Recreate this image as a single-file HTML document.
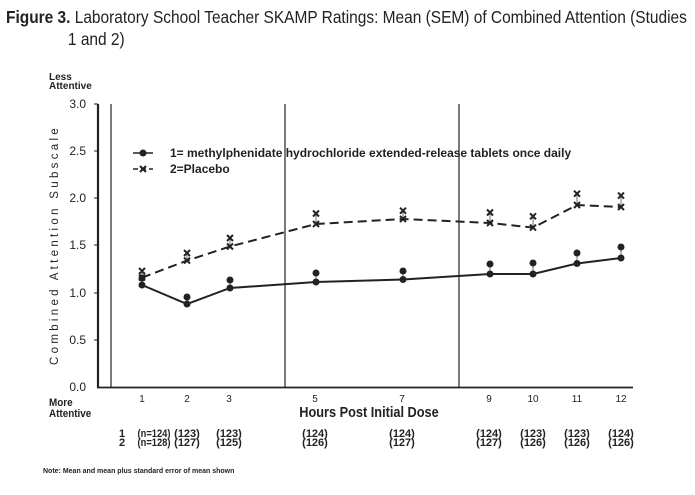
<!DOCTYPE html>
<html><head><style>
body{margin:0;background:#fff;}
svg text{font-family:"Liberation Sans",sans-serif;fill:#222;}
</style></head><body>
<svg width="695" height="490" viewBox="0 0 695 490" xmlns="http://www.w3.org/2000/svg">
<text x="7" y="23" font-size="18" transform="scale(0.86,1)" ><tspan font-weight="bold">Figure 3.</tspan> Laboratory School Teacher SKAMP Ratings: Mean (SEM) of Combined Attention (Studies</text>
<text x="79" y="45" font-size="18" transform="scale(0.86,1)">1 and 2)</text>

<text x="49" y="80" font-size="10" font-weight="bold">Less</text>
<text x="49" y="89" font-size="10" font-weight="bold">Attentive</text>
<g font-size="12" text-anchor="end">
<text x="86" y="108">3.0</text><text x="86" y="155">2.5</text><text x="86" y="202">2.0</text>
<text x="86" y="249">1.5</text><text x="86" y="297">1.0</text><text x="86" y="344">0.5</text><text x="86" y="391">0.0</text>
</g>
<text transform="translate(58,245) rotate(-90)" font-size="11.5" text-anchor="middle" letter-spacing="3.3">Combined Attention Subscale</text>
<g stroke="#222">
<line x1="98" y1="104" x2="98" y2="388" stroke-width="2.2"/>
<line x1="97" y1="387.5" x2="633" y2="387.5" stroke-width="1.8"/>
<line x1="111" y1="104" x2="111" y2="387" stroke-width="1.2"/>
<line x1="285" y1="104" x2="285" y2="387" stroke-width="1.2"/>
<line x1="459" y1="104" x2="459" y2="387" stroke-width="1.2"/>
<g stroke-width="1"><line x1="94" y1="104" x2="98" y2="104"/><line x1="94" y1="151" x2="98" y2="151"/><line x1="94" y1="198" x2="98" y2="198"/><line x1="94" y1="245" x2="98" y2="245"/><line x1="94" y1="293" x2="98" y2="293"/><line x1="94" y1="340" x2="98" y2="340"/></g>
</g>
<g font-size="10" text-anchor="middle">
<text x="142" y="402">1</text><text x="187" y="402">2</text><text x="229" y="402">3</text><text x="315" y="402">5</text><text x="402" y="402">7</text><text x="489" y="402">9</text><text x="533" y="402">10</text><text x="577" y="402">11</text><text x="621" y="402">12</text>
</g>
<text x="49" y="406" font-size="11" font-weight="bold" transform="translate(49,0) scale(0.9,1) translate(-49,0)">More</text>
<text x="49" y="417" font-size="11" font-weight="bold" transform="translate(49,0) scale(0.9,1) translate(-49,0)">Attentive</text>
<text x="369" y="417" font-size="15" font-weight="bold" text-anchor="middle" transform="translate(369,0) scale(0.85,1) translate(-369,0)">Hours Post Initial Dose</text>

<g font-size="11" font-weight="bold" text-anchor="middle">
<text x="122" y="437">1</text><text x="122" y="446">2</text>
<g font-size="11" transform="translate(0,0)">
<text x="154" y="437" transform="translate(154,0) scale(0.85,1) translate(-154,0)">(n=124)</text><text x="154" y="446" transform="translate(154,0) scale(0.85,1) translate(-154,0)">(n=128)</text>
<text x="187" y="437">(123)</text><text x="187" y="446">(127)</text>
<text x="229" y="437">(123)</text><text x="229" y="446">(125)</text>
<text x="315" y="437">(124)</text><text x="315" y="446">(126)</text>
<text x="402" y="437">(124)</text><text x="402" y="446">(127)</text>
<text x="489" y="437">(124)</text><text x="489" y="446">(127)</text>
<text x="533" y="437">(123)</text><text x="533" y="446">(126)</text>
<text x="577" y="437">(123)</text><text x="577" y="446">(126)</text>
<text x="621" y="437">(124)</text><text x="621" y="446">(126)</text>
</g></g>
<text x="43" y="473" font-size="7" font-weight="bold">Note:  Mean and mean plus standard error of mean shown</text>

<g stroke="#888" stroke-width="1.2">
<line x1="142" y1="285" x2="142" y2="278"/><line x1="187" y1="304" x2="187" y2="297"/><line x1="230" y1="288" x2="230" y2="280"/><line x1="316" y1="282" x2="316" y2="273"/><line x1="403" y1="279" x2="403" y2="271"/><line x1="490" y1="274" x2="490" y2="264"/><line x1="533" y1="274" x2="533" y2="263"/><line x1="577" y1="263" x2="577" y2="253"/><line x1="621" y1="258" x2="621" y2="247"/>
<line x1="142" y1="278" x2="142" y2="271"/><line x1="187" y1="261" x2="187" y2="253"/><line x1="230" y1="246" x2="230" y2="238"/><line x1="316" y1="224" x2="316" y2="213"/><line x1="403" y1="219" x2="403" y2="211"/><line x1="490" y1="223" x2="490" y2="212"/><line x1="533" y1="228" x2="533" y2="216"/><line x1="577" y1="205" x2="577" y2="194"/><line x1="621" y1="207" x2="621" y2="196"/>
</g>
<polyline fill="none" stroke="#222" stroke-width="2" points="142,285 187,304 230,288 316,282 403,279.5 490,274 533,274 577,263.5 621,258"/>
<polyline fill="none" stroke="#222" stroke-width="2" stroke-dasharray="9,5" points="142,277.6 187,260.6 230,246.5 316,224 403,219 490,223 533,227.6 577,205 621,207"/>
<g fill="#222">
<circle cx="142" cy="285" r="3.5"/><circle cx="187" cy="304" r="3.5"/><circle cx="230" cy="288" r="3.5"/><circle cx="316" cy="282" r="3.5"/><circle cx="403" cy="279.5" r="3.5"/><circle cx="490" cy="274" r="3.5"/><circle cx="533" cy="274" r="3.5"/><circle cx="577" cy="263.5" r="3.5"/><circle cx="621" cy="258" r="3.5"/>
<circle cx="142" cy="278" r="3.5"/><circle cx="187" cy="297" r="3.5"/><circle cx="230" cy="280" r="3.5"/><circle cx="316" cy="273" r="3.5"/><circle cx="403" cy="271" r="3.5"/><circle cx="490" cy="264" r="3.5"/><circle cx="533" cy="263" r="3.5"/><circle cx="577" cy="253" r="3.5"/><circle cx="621" cy="247" r="3.5"/>
</g>
<g stroke="#222" stroke-width="2">
<path d="M139,274.6l6,6m0,-6l-6,6M184,257.6l6,6m0,-6l-6,6M227,243.5l6,6m0,-6l-6,6M313,221l6,6m0,-6l-6,6M400,216l6,6m0,-6l-6,6M487,220l6,6m0,-6l-6,6M530,224.6l6,6m0,-6l-6,6M574,202l6,6m0,-6l-6,6M618,204l6,6m0,-6l-6,6"/>
<path d="M139,268l6,6m0,-6l-6,6M184,250l6,6m0,-6l-6,6M227,235l6,6m0,-6l-6,6M313,210.5l6,6m0,-6l-6,6M400,207.7l6,6m0,-6l-6,6M487,209.5l6,6m0,-6l-6,6M530,213.3l6,6m0,-6l-6,6M574,190.7l6,6m0,-6l-6,6M618,192.6l6,6m0,-6l-6,6"/>
</g>
<line x1="133" y1="153" x2="153" y2="153" stroke="#222" stroke-width="1.5"/>
<circle cx="143" cy="153" r="3.5" fill="#222"/>
<line x1="133" y1="169" x2="153" y2="169" stroke="#222" stroke-width="1.5" stroke-dasharray="5,3"/>
<path d="M140,166l6,6m0,-6l-6,6" stroke="#222" stroke-width="2"/>
<text x="170" y="157" font-size="12" font-weight="bold">1= methylphenidate hydrochloride extended-release tablets once daily</text>
<text x="170" y="173" font-size="12" font-weight="bold">2=Placebo</text>
</svg>
</body></html>
